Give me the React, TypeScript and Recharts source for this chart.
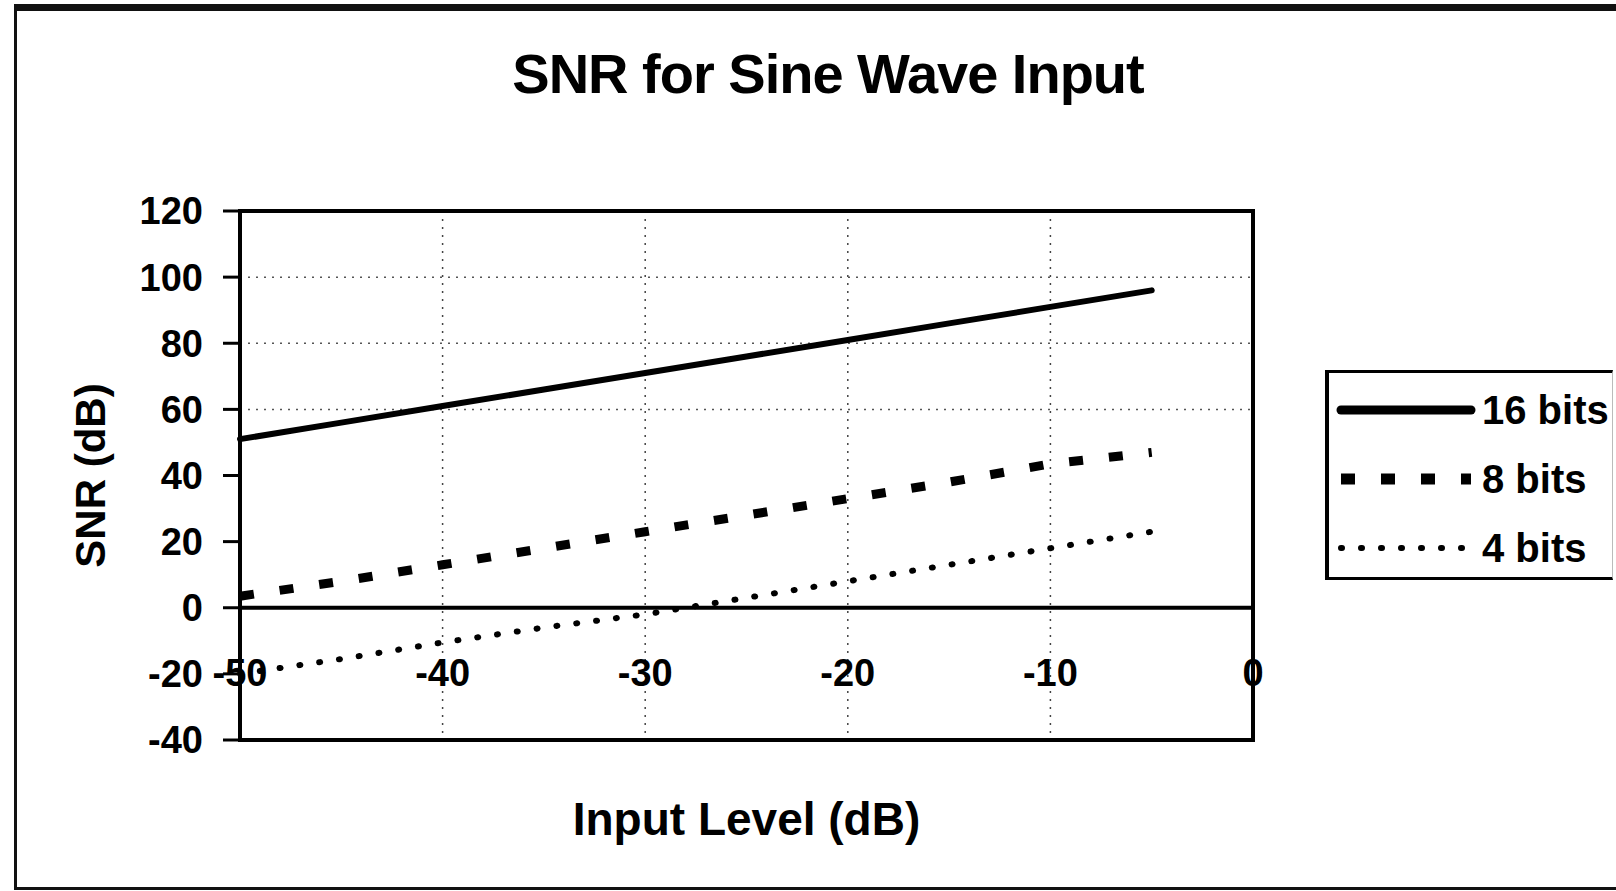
import React from "react";
import {
  LineChart,
  Line,
  XAxis,
  YAxis,
  CartesianGrid,
  ReferenceLine,
  ReferenceArea,
  Legend,
  Label,
} from "recharts";

const inputLevel = [-50, -45, -40, -35, -30, -25, -20, -15, -10, -5];
const snr16 = [51, 56, 61, 66, 71, 76, 81, 86, 91, 96];
const snr8 = [3.5, 8, 13, 18, 23, 28, 33, 38, 43.5, 47];
const snr4 = [-20, -15.5, -10.5, -6, -2, 3, 8, 13, 18, 23];

const xTicks = [-50, -40, -30, -20, -10, 0];
const yTicks = [-40, -20, 0, 20, 40, 60, 80, 100, 120];
const gridY = [60, 80, 100];

const FONT = '"Liberation Sans", Arial, sans-serif';

const series = [
  { key: "b16", name: "16 bits", width: 6, legendWidth: 9, dash: undefined, cap: "round" },
  { key: "b8", name: "8 bits", width: 9, legendWidth: 11, dash: "14 26", cap: "butt" },
  { key: "b4", name: "4 bits", width: 6, legendWidth: 6, dash: "1 19", cap: "round" },
];

const data = inputLevel.map((x, i) => ({
  x,
  b16: snr16[i],
  b8: snr8[i],
  b4: snr4[i],
}));

function XTick({ x, y, payload }: any) {
  return (
    <text
      x={x}
      y={y}
      dy={-54}
      textAnchor="middle"
      fontSize={38}
      fontWeight="bold"
      fontFamily={FONT}
      fill="#000"
    >
      {payload.value}
    </text>
  );
}

// legend rows keep the series order (Recharts sorts its payload by name)
function LegendBox({ payload }: any) {
  const entries = payload || [];
  return (
    <div
      style={{
        width: 288,
        height: 210,
        borderTop: "3px solid #000",
        borderLeft: "4px solid #000",
        borderBottom: "3px solid #000",
        borderRight: "1px solid #bbb",
        boxSizing: "border-box",
        background: "#fff",
      }}
    >
      <svg width={280} height={204}>
        {series.map((s, i) => {
          const entry = entries.find((e: any) => e.dataKey === s.key);
          const cy = 37 + i * 69;
          return (
            <g key={s.key}>
              <line
                x1={12}
                x2={142}
                y1={cy}
                y2={cy}
                stroke="#000"
                strokeWidth={s.legendWidth}
                strokeDasharray={s.dash}
                strokeLinecap={s.cap as any}
              />
              <text
                x={153}
                y={cy + 14}
                fontSize={40}
                fontWeight="bold"
                fontFamily={FONT}
                fill="#000"
              >
                {entry ? entry.value : s.name}
              </text>
            </g>
          );
        })}
      </svg>
    </div>
  );
}

export default function App() {
  return (
    <div
      style={{
        position: "absolute",
        left: 0,
        top: 0,
        width: 1616,
        height: 891,
        overflow: "hidden",
        background: "#fff",
      }}
    >
      <div
        style={{
          position: "absolute",
          left: 14,
          top: 4,
          width: 1700,
          height: 886,
          borderTop: "7px solid #111",
          borderLeft: "3px solid #111",
          borderBottom: "3px solid #111",
          boxSizing: "border-box",
        }}
      />
      <div
        style={{
          position: "absolute",
          left: 328,
          top: 46,
          width: 1000,
          textAlign: "center",
          fontFamily: FONT,
          fontWeight: "bold",
          fontSize: 56,
          lineHeight: "56px",
          letterSpacing: -1,
          color: "#000",
        }}
      >
        SNR for Sine Wave Input
      </div>
      <div style={{ position: "absolute", left: 0, top: 0 }}>
        <LineChart
          width={1616}
          height={891}
          data={data}
          margin={{ top: 211, right: 363, bottom: 41, left: 20 }}
        >
          <CartesianGrid
            horizontal={false}
            stroke="#444"
            strokeDasharray="2 6"
            strokeWidth={1.5}
          />
          {gridY.map((v) => (
            <ReferenceLine
              key={v}
              y={v}
              stroke="#555"
              strokeDasharray="2 6"
              strokeWidth={1.5}
            />
          ))}
          <XAxis
            dataKey="x"
            type="number"
            domain={[-50, 0]}
            ticks={xTicks}
            interval={0}
            axisLine={false}
            tickLine={false}
            tickSize={0}
            tickMargin={0}
            height={110}
            tick={<XTick />}
          >
            <Label
              value="Input Level (dB)"
              position="insideBottom"
              offset={15}
              fontSize={46}
              fontWeight="bold"
              fontFamily={FONT}
              fill="#000"
            />
          </XAxis>
          <YAxis
            type="number"
            domain={[-40, 120]}
            ticks={yTicks}
            interval={0}
            width={220}
            tickSize={17}
            tickMargin={20}
            axisLine={{ stroke: "#000", strokeWidth: 4 }}
            tickLine={{ stroke: "#000", strokeWidth: 3 }}
            tick={{
              fontSize: 38,
              fontWeight: "bold",
              fontFamily: FONT,
              fill: "#000",
            }}
          >
            <Label
              value="SNR (dB)"
              angle={-90}
              position="insideLeft"
              offset={70}
              fontSize={42}
              fontWeight="bold"
              fontFamily={FONT}
              fill="#000"
              style={{ textAnchor: "middle" }}
            />
          </YAxis>
          <ReferenceArea
            x1={-50}
            x2={0}
            y1={-40}
            y2={120}
            fill="none"
            stroke="#000"
            strokeWidth={4}
          />
          <ReferenceLine y={0} stroke="#000" strokeWidth={4} />
          {series.map((s) => (
            <Line
              key={s.key}
              type="linear"
              dataKey={s.key}
              name={s.name}
              stroke="#000"
              strokeWidth={s.width}
              strokeDasharray={s.dash}
              strokeLinecap={s.cap as any}
              dot={false}
              activeDot={false}
              isAnimationActive={false}
            />
          ))}
          <Legend
            layout="vertical"
            align="center"
            verticalAlign="middle"
            content={<LegendBox />}
            wrapperStyle={{ left: 1325, top: 370, width: 288, height: 210 }}
          />
        </LineChart>
      </div>
    </div>
  );
}
